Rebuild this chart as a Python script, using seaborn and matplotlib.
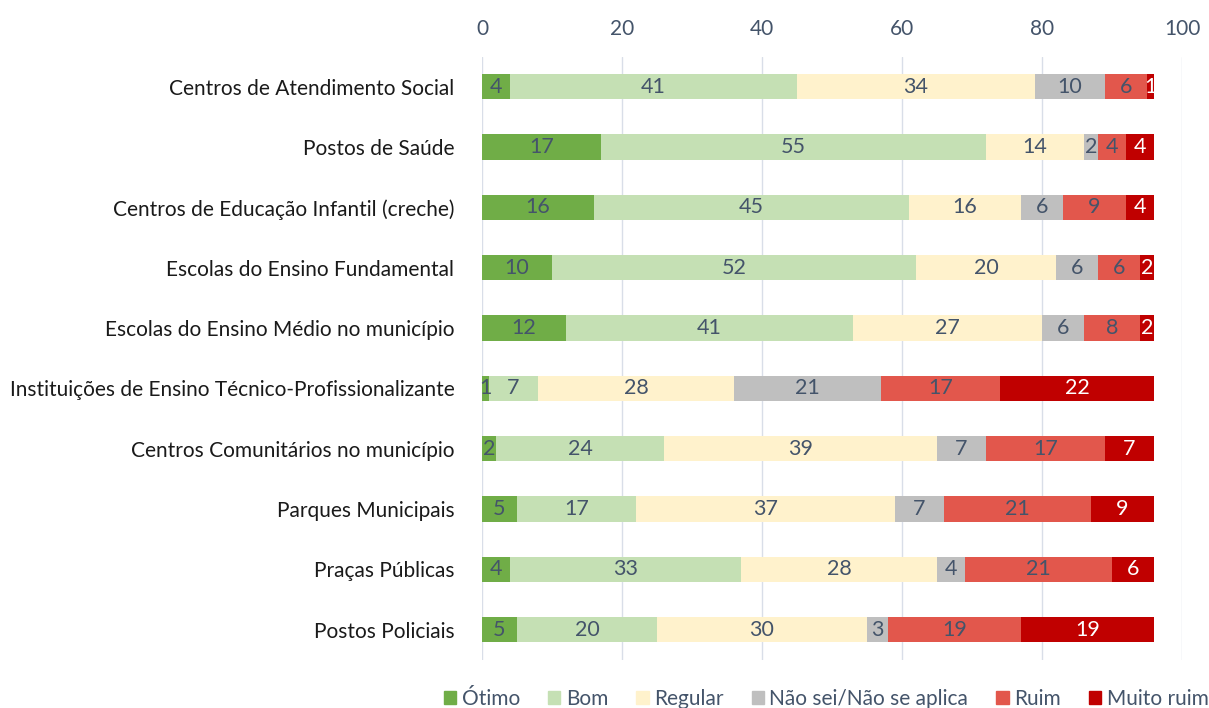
import numpy as np
import pandas as pd
import matplotlib.pyplot as plt
import seaborn as sns

sns.set_style("white")
plt.rcParams["font.family"] = ["Lato", "DejaVu Sans"]

categorias = [
    "Centros de Atendimento Social",
    "Postos de Saúde",
    "Centros de Educação Infantil (creche)",
    "Escolas do Ensino Fundamental",
    "Escolas do Ensino Médio no município",
    "Instituições de Ensino Técnico-Profissionalizante",
    "Centros Comunitários no município",
    "Parques Municipais",
    "Praças Públicas",
    "Postos Policiais",
]
otimo = [4, 17, 16, 10, 12, 1, 2, 5, 4, 5]
bom = [41, 55, 45, 52, 41, 7, 24, 17, 33, 20]
regular = [34, 14, 16, 20, 27, 28, 39, 37, 28, 30]
nao_sei = [10, 2, 6, 6, 6, 21, 7, 7, 4, 3]
ruim = [6, 4, 9, 6, 8, 17, 17, 21, 21, 19]
muito_ruim = [1, 4, 4, 2, 2, 22, 7, 9, 6, 19]

series = ["Ótimo", "Bom", "Regular", "Não sei/Não se aplica", "Ruim", "Muito ruim"]
valores = [otimo, bom, regular, nao_sei, ruim, muito_ruim]
cores = ["#70AD47", "#C5E0B4", "#FFF2CC", "#BFBFBF", "#E2574C", "#C00000"]
cor_texto = ["#44546A", "#44546A", "#44546A", "#44546A", "#44546A", "white"]

vals = np.array(valores, dtype=float)
acum = vals.cumsum(axis=0)

fig = plt.figure(figsize=(12.09, 7.08), dpi=100)
ax = fig.add_axes([0.3987, 0.068, 0.579, 0.852])

# empilhado: desenha do maior acumulado para o menor
for i in range(len(series) - 1, -1, -1):
    df = pd.DataFrame({"Categoria": categorias, "fim": acum[i]})
    sns.barplot(data=df, y="Categoria", x="fim", color=cores[i], width=0.42,
                linewidth=0, saturation=1, ax=ax, orient="h")

for i in range(len(series)):
    for j in range(len(categorias)):
        v = vals[i, j]
        ax.text(acum[i, j] - v / 2, j, f"{int(v)}", ha="center", va="center",
                fontsize=15.5, color=cor_texto[i])

ax.set_xlim(0, 100)
ax.set_ylim(9.5, -0.5)
ax.set_xticks(range(0, 101, 20))
ax.xaxis.tick_top()
ax.tick_params(axis="x", length=0, pad=13, labelsize=15, labelcolor="#44546A")
ax.tick_params(axis="y", length=0, pad=20, labelsize=15, labelcolor="#1a1a1a")
ax.set_xlabel("")
ax.set_ylabel("")
ax.grid(axis="x", color="#D9DEE8", linewidth=1)
ax.set_axisbelow(True)
for s in ax.spines.values():
    s.set_visible(False)

handles = [plt.Rectangle((0, 0), 1, 1, color=c) for c in cores]
fig.legend(handles, series, loc="lower right", bbox_to_anchor=(1.015, -0.028),
           ncol=6, frameon=False, fontsize=15, labelcolor="#44546A",
           handlelength=0.6, handleheight=0.6, handletextpad=0.25,
           columnspacing=1.35)

fig.savefig("out.png", dpi=100)
